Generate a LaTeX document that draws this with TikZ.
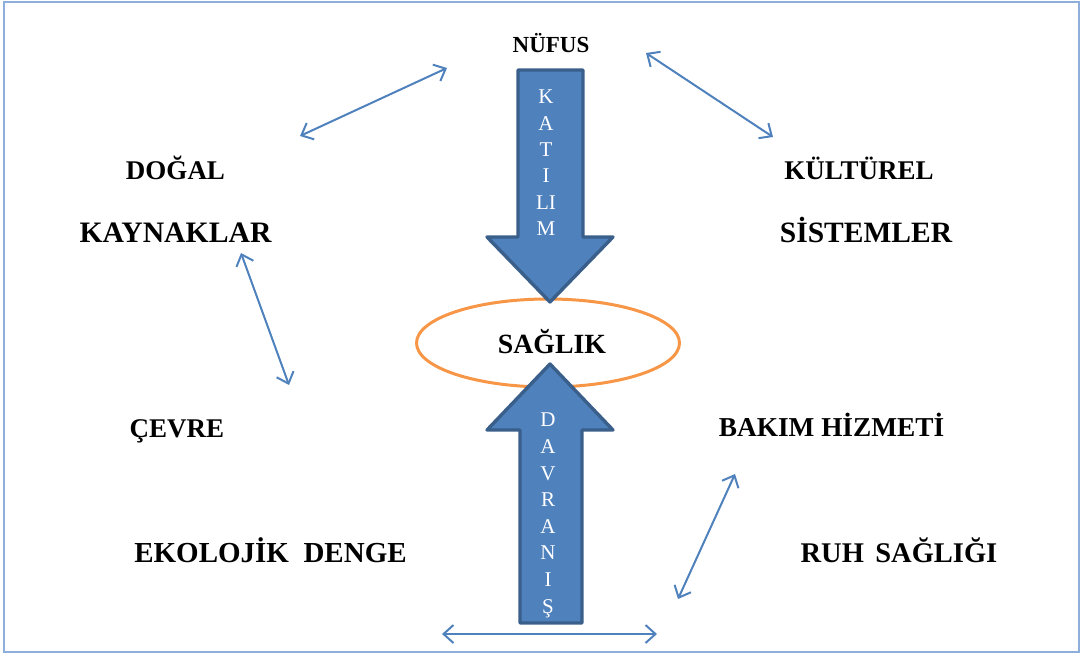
\documentclass[tikz,border=0pt]{standalone}
\usepackage{fontspec}
\setmainfont{Liberation Serif}
\usetikzlibrary{arrows.meta}
\definecolor{fillblue}{HTML}{4F81BD}
\definecolor{edgeblue}{HTML}{3A5F8B}
\definecolor{orng}{HTML}{F79646}
\definecolor{framecol}{HTML}{8EAEDB}
\begin{document}
\begin{tikzpicture}[x=1pt,y=-1pt,
  lbl/.style={font=\bfseries\fontsize{#1}{#1}\selectfont, inner sep=0pt, text height={0.662*#1pt}, text depth=0pt},
  lbl/.default=28,
  letter/.style={font=\fontsize{21}{21}\selectfont, text=white, inner sep=0pt, text height={0.662*21pt}, text depth=0pt},
  bigarrow/.style={fill=fillblue, draw=edgeblue, line width=3.4pt, line join=round},
  twoway/.style={draw=fillblue, line width=2pt, {Straight Barb[length=10pt,width=18pt,line width=2pt]}-{Straight Barb[length=10pt,width=18pt,line width=2pt]}}]
\useasboundingbox (0,0) rectangle (1081,654);
\draw[framecol, line width=2pt] (4,2) rectangle (1079,652);

% labels
\node[lbl=23] (nufus) at (551,45) {NÜFUS};
\node[lbl=27] (dogal) at (175.5,171) {DOĞAL};
\node[lbl=29.7] (kaynak) at (175.5,232.5) {KAYNAKLAR};
\node[lbl=27] (kultur) at (859,171) {KÜLTÜREL};
\node[lbl=29.5] (sistem) at (866,232.5) {SİSTEMLER};
\node[lbl=27] (cevre) at (177,429) {ÇEVRE};
\node[lbl=27.3] (bakim) at (831.5,427) {BAKIM HİZMETİ};
\node[lbl=29] (ekoloji) at (270.5,552.5) {EKOLOJİK\hspace{0.5em}DENGE};
\node[lbl=28.5] (ruh) at (899,553) {RUH\hspace{0.4em}SAĞLIĞI};

% ellipse
\draw[orng, line width=3pt] (548,343) ellipse [x radius=131.5, y radius=44];
\node[lbl=27.8] (saglik) at (552,344) {SAĞLIK};

% big arrows
\draw[bigarrow] (518,70) -- (583,70) -- (583,237) -- (613,237) -- (550,302) -- (487,237) -- (518,237) -- cycle;
\draw[bigarrow] (520,623) -- (582,623) -- (582,430) -- (613,430) -- (550,364) -- (487,430) -- (520,430) -- cycle;

\foreach \t [count=\i] in {K,A,T,I,LI,M}
  \node[letter] (k\i) at (546,{97+26.3*(\i-1)}) {\t};
\foreach \t [count=\i] in {D,A,V,R,A,N,I,Ş}
  \node[letter] (d\i) at (548,{420+26.6*(\i-1)}) {\t};

% two-way arrows
\coordinate (a1s) at (300,136); \coordinate (a1e) at (447,68);
\coordinate (a2s) at (646,53);  \coordinate (a2e) at (773,137);
\coordinate (a3s) at (241,253); \coordinate (a3e) at (289,385);
\coordinate (a4s) at (678,599); \coordinate (a4e) at (735,474);
\coordinate (a5s) at (442,634); \coordinate (a5e) at (657,634);
\draw[twoway] (a1s) -- (a1e);
\draw[twoway] (a2s) -- (a2e);
\draw[twoway] (a3s) -- (a3e);
\draw[twoway] (a4s) -- (a4e);
\draw[twoway] (a5s) -- (a5e);
\end{tikzpicture}
\end{document}
